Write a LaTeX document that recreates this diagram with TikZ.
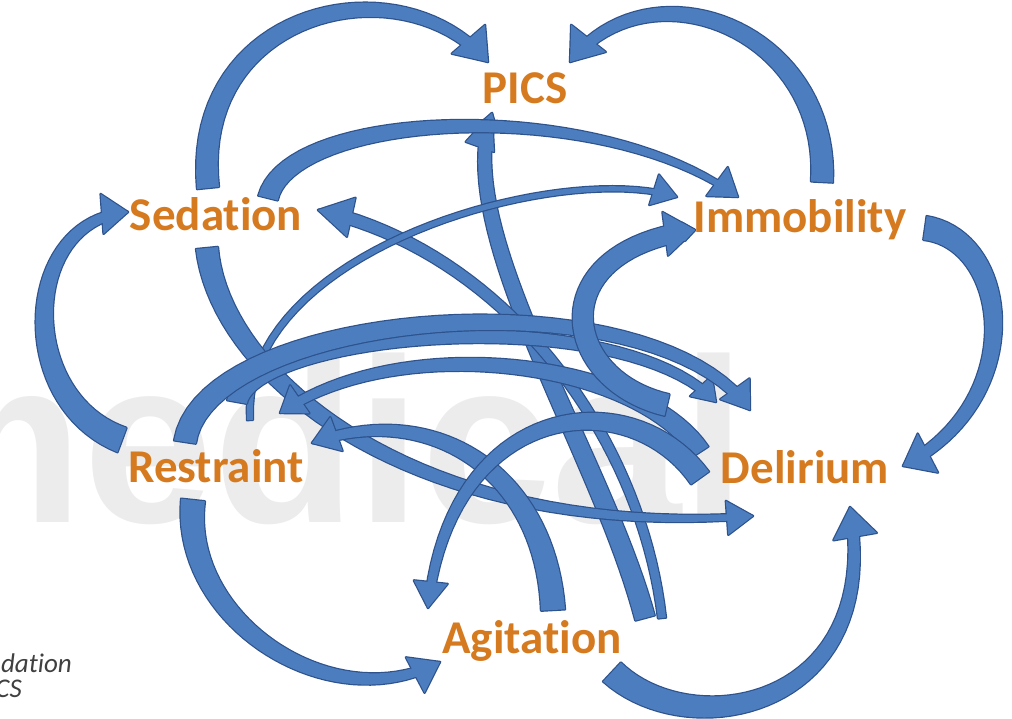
\documentclass[tikz,border=0pt]{standalone}
\usepackage{fontspec}
\newfontfamily\lblfont{Carlito}[Ligatures=NoCommon]
\newfontfamily\wmfont{Liberation Sans}
\definecolor{arlight}{RGB}{76,125,190}
\definecolor{ardark}{RGB}{45,82,140}
\definecolor{lblorange}{RGB}{214,122,32}
\definecolor{wmgray}{RGB}{236,236,236}
\definecolor{cuttext}{RGB}{64,64,64}
\pgfdeclarelayer{bg}
\pgfsetlayers{bg,main}
\tikzset{
  tpn/.style={draw=none, shape=rectangle, inner sep=0pt, outer sep=0pt, minimum width=0pt, sloped, allow upside down},
  lbl/.style={anchor=base, inner sep=0pt, text=lblorange, font=\lblfont\bfseries\fontsize{47}{50}\selectfont},
  cut/.style={anchor=base east, inner sep=0pt, text=cuttext, font=\lblfont\itshape\fontsize{27}{30}\selectfont},
  wm/.style={anchor=base west, inner sep=0pt, text=wmgray, font=\wmfont\bfseries\fontsize{234}{240}\selectfont},
  arout/.style={draw=ardark, line width=2.4pt, line join=round},
  arin/.style={fill=arlight}
}
% #1 start, #2 c1, #3 c2, #4 end, #5 r0, #6 r1, #7 head half width, #8 head length
\newcommand\tarrow[8]{%
  \foreach \i in {0,...,39}{%
    \pgfmathsetmacro\tpT{\i/40}%
    \pgfmathsetmacro\tpH{2*(#5+(#6-#5)*\i/40)}%
    \path #1 .. controls #2 and #3 .. #4 node[tpn, pos=\tpT, minimum height=\tpH pt] (tp\i) {};
  }%
  \pgfmathsetmacro\tpH{2*#7}%
  \path #1 .. controls #2 and #3 .. #4 node[tpn, pos=1, anchor=east, minimum width=#8pt, minimum height=\tpH pt] (th) {};
  \def\tpshaft{(tp0.north) \foreach \i in {1,...,39}{ -- (tp\i.north)} -- (th.east) \foreach \i in {39,...,0}{ -- (tp\i.south)} -- cycle}%
  \def\tphead{(th.east) -- (th.north west) -- (th.south west) -- cycle}%
  \path[arout] \tpshaft;
  \path[arout] \tphead;
  \path[arin] \tpshaft;
  \path[arin] \tphead;
}
\begin{document}
\begin{tikzpicture}[x=1pt,y=-1pt]
\useasboundingbox (0,0) rectangle (1012,718);
\clip (0,0) rectangle (1012,718);
\node[lbl] (pics) at (525,103) {PICS};
\node[lbl] (sed) at (216,230) {Sedation};
\node[lbl] (imm) at (800,232) {Immobility};
\node[lbl] (res) at (216,482) {Restraint};
\node[lbl] (del) at (805,483) {Delirium};
\node[lbl] (agi) at (532,653) {Agitation};
\node[cut] (cuta) at (72,672) {dation};
\node[cut] (cutb) at (22,697) {CS};
\begin{pgfonlayer}{bg}
\fill[white] (0,0) rectangle (1012,718);
\node[wm] (wm) at (-125,522) {medical};
% inner tangle
\tarrow{([shift={(113,-35)}]agi.base)}{(600,450)}{(450,230)}{([shift={(-33,10)}]pics.base)}{10}{6}{15}{36}
\tarrow{([shift={(130,-35)}]agi.base)}{(640,430)}{(500,250)}{([shift={(102,-20)}]sed.base)}{4}{6}{20}{34}
\tarrow{([shift={(34,-62)}]res.base)}{(240,250)}{(560,160)}{([shift={(-123,-35)}]imm.base)}{3}{2.5}{16}{24}
\tarrow{([shift={(-9,18)}]sed.base)}{(220,380)}{(420,540)}{([shift={(-52,33)}]del.base)}{11}{3}{17}{26}
\tarrow{([shift={(21,-43)}]agi.base)}{(545,470)}{(430,400)}{([shift={(96,-39)}]res.base)}{12}{4}{18}{26}
\tarrow{([shift={(-105,-31)}]del.base)}{(640,360)}{(400,330)}{([shift={(64,-69)}]res.base)}{10}{4}{17}{24}
\tarrow{([shift={(-105,-5)}]del.base)}{(630,380)}{(450,400)}{([shift={(-104,-45)}]agi.base)}{11}{4}{17}{26}
\tarrow{([shift={(21,-80)}]res.base)}{(250,330)}{(620,300)}{([shift={(-89,-81)}]del.base)}{10}{4}{15}{22}
\tarrow{([shift={(-31,-40)}]res.base)}{(205,310)}{(650,270)}{([shift={(-55,-73)}]del.base)}{11}{5}{18}{26}
\tarrow{([shift={(-138,-78)}]del.base)}{(560,380)}{(540,250)}{([shift={(-105,-2)}]imm.base)}{11}{9}{22}{30}
\tarrow{([shift={(52,-32)}]sed.base)}{(290,110)}{(600,95)}{([shift={(-62,-35)}]imm.base)}{10}{2.5}{18}{26}
% outer ring
\tarrow{([shift={(-8,-42)}]sed.base)}{(190,10)}{(400,-40)}{([shift={(-37,-41)}]pics.base)}{11}{5}{22}{30}
\tarrow{([shift={(22,-50)}]imm.base)}{(830,30)}{(650,-40)}{([shift={(45,-41)}]pics.base)}{11}{5}{22}{30}
\tarrow{([shift={(125,-4)}]imm.base)}{(1010,240)}{(1030,400)}{([shift={(98,-17)}]del.base)}{12}{5}{22}{28}
\tarrow{([shift={(80,19)}]agi.base)}{(690,745)}{(885,710)}{([shift={(45,24)}]del.base)}{13}{5}{22}{30}
\tarrow{([shift={(-23,18)}]res.base)}{(180,620)}{(330,720)}{([shift={(-92,9)}]agi.base)}{12}{4}{20}{28}
\tarrow{([shift={(-94,-42)}]res.base)}{(15,400)}{(20,220)}{([shift={(-88,-18)}]sed.base)}{13}{4}{20}{26}
\end{pgfonlayer}
\end{tikzpicture}
\end{document}
